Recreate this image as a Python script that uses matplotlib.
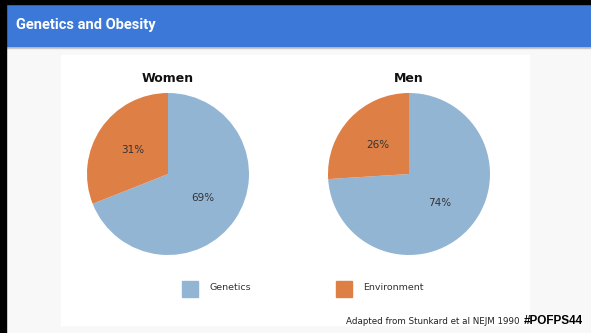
import matplotlib
matplotlib.use('Agg')
import matplotlib.pyplot as plt
import matplotlib.patches as mpatches

# data
groups = ['Women', 'Men']
genetics = [69, 74]
environment = [31, 26]
labels = ['Genetics', 'Environment']
colors = ['#93b5d4', '#de7f45']

W, H = 591, 333
fig = plt.figure(figsize=(W / 100, H / 100), dpi=100)
fig.patch.set_facecolor('#f8f8f8')


def px_axes(x, y, w, h):
    # axes from pixel box (top-left origin)
    return fig.add_axes([x / W, 1 - (y + h) / H, w / W, h / H])


# frame / header
bg = px_axes(0, 0, W, H)
bg.set_xlim(0, W)
bg.set_ylim(H, 0)
bg.axis('off')
bg.add_patch(mpatches.Rectangle((0, 0), W, H, color='#f8f8f8', zorder=0))
bg.add_patch(mpatches.Rectangle((61, 55), 468, 270, color='white', zorder=1))
bg.add_patch(mpatches.Rectangle((0, 46), W, 2, color='#c8c8c8', zorder=1))
bg.add_patch(mpatches.Rectangle((0, 0), W, 46, color='#3b78d8', zorder=2))
bg.add_patch(mpatches.Rectangle((0, 0), W, 4, color='black', zorder=3))
bg.add_patch(mpatches.Rectangle((0, 0), 6, H, color='black', zorder=3))
bg.text(16, 25, 'Genetics and Obesity', color='white', fontsize=10.5,
        fontweight='bold', family='Roboto', va='center', ha='left', zorder=4)

# pies
centers = [(168, 174), (409, 174)]
r = 81
for i, g in enumerate(groups):
    cx, cy = centers[i]
    ax = px_axes(cx - r, cy - r, 2 * r, 2 * r)
    vals = [genetics[i], environment[i]]
    ax.pie(vals, colors=colors, startangle=90, counterclock=False, radius=1,
           autopct='%d%%', pctdistance=0.52,
           textprops=dict(fontsize=7.5, color='#333333', family='DejaVu Sans'),
           wedgeprops=dict(linewidth=0))
    ax.set_xlim(-1, 1)
    ax.set_ylim(-1, 1)
    ax.set_aspect('equal')
    bg.text(cx, 78, g, fontsize=9, fontweight='bold', ha='center', va='center',
            color='#111111', family='DejaVu Sans', zorder=4)

# legend
for x, lab, c in [(190, labels[0], colors[0]), (344, labels[1], colors[1])]:
    bg.add_patch(mpatches.Rectangle((x - 8, 281), 16, 16, color=c, zorder=4))
    bg.text(x + 19, 288, lab, fontsize=6.8, ha='left', va='center',
            color='#333333', family='DejaVu Sans', zorder=4)

# footer
bg.text(520, 321, 'Adapted from Stunkard et al NEJM 1990', fontsize=6.3,
        ha='right', va='center', color='#222222', family='DejaVu Sans', zorder=4)
bg.text(524, 321, '#POFPS44', fontsize=8.5, fontweight='bold', ha='left',
        va='center', color='black', family='Liberation Sans', zorder=4)

fig.savefig('out.png', dpi=100, facecolor=fig.get_facecolor())
